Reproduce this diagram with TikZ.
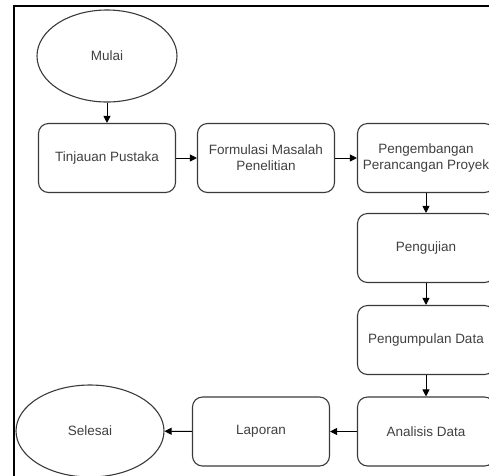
\documentclass[tikz,border=0pt]{standalone}
\usepackage{fontspec}
\setmainfont{Liberation Sans}
\usetikzlibrary{shapes.geometric,arrows.meta}
\definecolor{ln}{HTML}{3A3A3A}
\definecolor{tx}{HTML}{404040}
\tikzset{
  x=1pt,y=-1pt,
  box/.style={draw=ln,line width=1.1pt,rounded corners=10pt,minimum width=137pt,minimum height=69pt,inner sep=0pt,align=center,text=tx,font=\fontsize{13.5}{16.2}\selectfont},
  oval/.style={draw=ln,line width=1.1pt,ellipse,inner sep=0pt,align=center,text=tx,font=\fontsize{13.5}{16.2}\selectfont},
  conn/.style={draw=black,line width=1pt,-{Triangle[length=7pt,width=7pt]}}
}
\begin{document}
\begin{tikzpicture}
\useasboundingbox (0,0) rectangle (489,475);
\begin{scope}
\clip (0,0) rectangle (489,475);
\draw[line width=2.2pt,black] (14,480) -- (14,6) -- (495,6);
\node[oval,minimum width=140pt,minimum height=92pt] (mulai) at (107,56) {Mulai};
\node[box] (tin) at (107,158) {Tinjauan Pustaka};
\node[box] (for) at (266,158) {Formulasi Masalah\\Penelitian};
\node[box] (pen) at (426,158) {Pengembangan\\Perancangan Proyek};
\node[box] (uji) at (426,248) {Pengujian};
\node[box] (kum) at (426,340) {Pengumpulan Data};
\node[box] (ana) at (426,431.5) {Analisis Data};
\node[box] (lap) at (261,431.5) {Laporan};
\node[oval,minimum width=148pt,minimum height=92pt] (sel) at (90,431) {Selesai};
\draw[conn] (mulai) -- (tin);
\draw[conn] (tin) -- (for);
\draw[conn] (for) -- (pen);
\draw[conn] (pen) -- (uji);
\draw[conn] (uji) -- (kum);
\draw[conn] (kum) -- (ana);
\draw[conn] (ana) -- (lap);
\draw[conn] (lap) -- (sel);
\end{scope}
\end{tikzpicture}
\end{document}
